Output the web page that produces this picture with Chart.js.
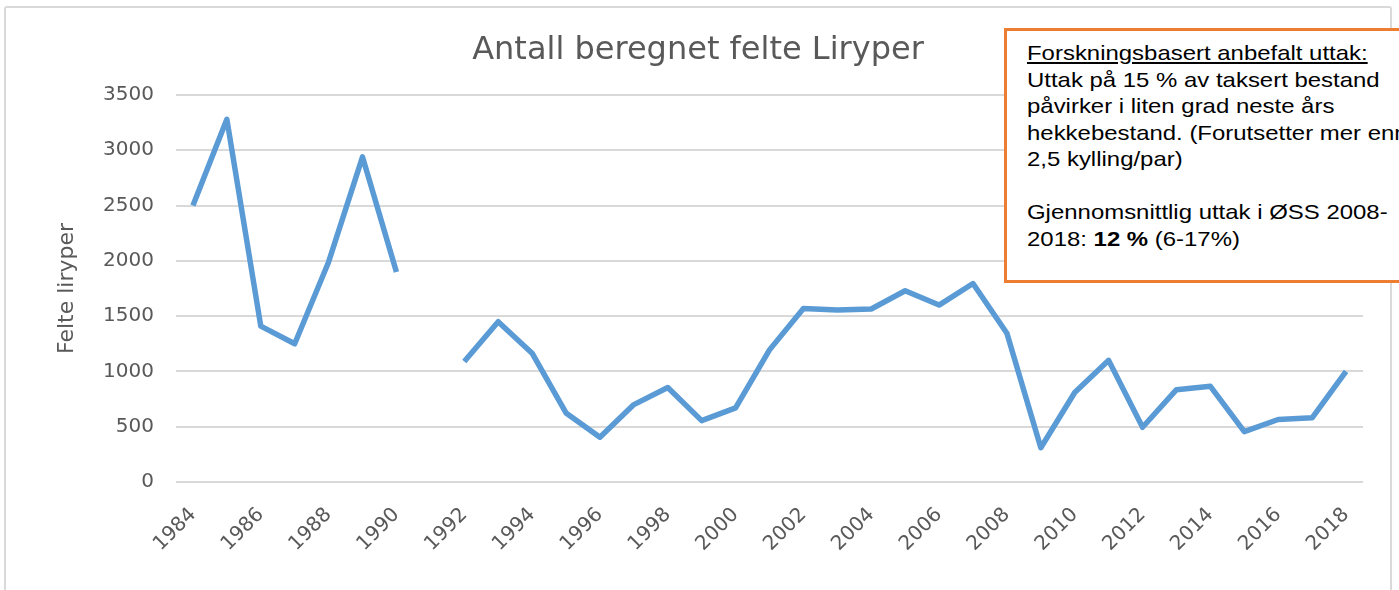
<!DOCTYPE html>
<html>
<head>
<meta charset="utf-8">
<script src="https://cdn.jsdelivr.net/npm/chart.js@4/dist/chart.umd.min.js"></script>
<style>
  body { margin: 0; background: #fff; }
  #wrap { position: relative; width: 1399px; height: 590px; overflow: hidden; }
  #frame { position: absolute; left: 4px; top: 6px; width: 1384px; height: 600px; border: 2px solid #d9d9d9; border-radius: 3px; pointer-events: none; }
  #note {
    position: absolute; left: 1004px; top: 28px; width: 440px; height: 255px;
    border: 3px solid #ED7D31; background: #fff; box-sizing: border-box;
    padding: 9px 0 0 20px; overflow: hidden;
  }
  #note div {
    font-family: "Liberation Sans", Arial, sans-serif; font-size: 21px; line-height: 26.5px;
    color: #000; white-space: nowrap;
    transform: scaleX(1.14); transform-origin: 0 0;
  }
</style>
</head>
<body>
<div id="wrap">
  <canvas id="myChart" width="1399" height="590"></canvas>
  <div id="frame"></div>
  <div id="note"><div>
    <u>Forskningsbasert anbefalt uttak:</u><br>
    Uttak på 15 % av taksert bestand<br>
    påvirker i liten grad neste års<br>
    hekkebestand. (Forutsetter mer enn<br>
    2,5 kylling/par)<br>
    <br>
    Gjennomsnittlig uttak i ØSS 2008-<br>
    2018: <b>12 %</b> (6-17%)
  </div></div>
</div>
<script>
let years = []
for (let y = 1984; y <= 2018; y++) years.push(String(y))

// 1991 mangler
let felte = [2500, 3280, 1410, 1250, 1990, 2940, 1900, null,
    1090, 1450, 1165, 625, 405, 700, 855, 555, 670, 1195,
    1570, 1555, 1565, 1730, 1600, 1795, 1345, 310, 810, 1100,
    495, 835, 865, 455, 565, 580, 1000]

let yTicks = [0, 500, 1000, 1500, 2000, 2500, 3000, 3500]

Chart.defaults.font.family = "'DejaVu Sans', sans-serif"
Chart.defaults.color = "#595959"

new Chart("myChart", {
    type: "line",
    data: {
        labels: years,
        datasets: [
            {
                data: felte,
                borderColor: "#5B9BD5",
                borderWidth: 5.5,
                pointRadius: 0,
                spanGaps: false,
                tension: 0,
                borderJoinStyle: "round",
            },
        ]
    },
    options: {
        responsive: false,
        animation: false,
        layout: { padding: { left: 33, right: 36, top: 0, bottom: 0 } },
        plugins: {
            legend: { display: false },
            tooltip: { enabled: false },
            title: {
                display: true,
                text: "Antall beregnet felte Liryper",
                font: { size: 32, weight: "normal" },
                color: "#595959",
                padding: { top: 31, bottom: 25.6 },
            },
        },
        scales: {
            x: {
                offset: true,
                grid: { display: false, drawTicks: false },
                border: { display: false },
                ticks: {
                    autoSkip: false,
                    maxRotation: 45,
                    minRotation: 45,
                    padding: 21,
                    font: { size: 20 },
                    callback: (v, i) => i % 2 === 0 ? years[i] : null,
                },
                afterFit: s => { s.height = 108 },
            },
            y: {
                min: 0,
                max: 3500,
                afterBuildTicks: s => { s.ticks = yTicks.map(v => ({ value: v })) },
                grid: { color: "#d9d9d9", lineWidth: 2, drawTicks: false },
                border: { display: false },
                ticks: { padding: 22, font: { size: 20 }, callback: v => String(v) },
                title: {
                    display: true,
                    text: "Felte liryper",
                    font: { size: 22 },
                    padding: { top: 21, bottom: 0 },
                },
                afterFit: s => { s.width = 143 },
            },
        },
    }
})
</script>
</body>
</html>
